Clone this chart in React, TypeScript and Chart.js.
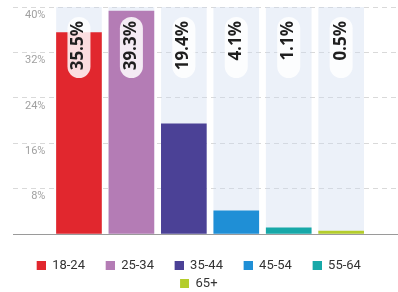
import { useEffect, useRef } from 'react';
import { Chart, registerables } from 'chart.js';

Chart.register(...registerables);

const ageGroups = ['18-24', '25-34', '35-44', '45-54', '55-64', '65+'];
const shares = [35.5, 39.3, 19.4, 4.1, 1.1, 0.5];
const barColors = ['#e1272e', '#b47cb5', '#4b4196', '#1f8fd6', '#17a8a8', '#b4cd2b'];
const yMin = 0;
const yMax = 40;
const yStep = 8;
const trackColor = 'rgba(205,219,240,0.38)';
const TRACK_LABEL = '__track';

const SWATCH = 9;
const SWATCH_PAD = 6;

function makeSwatch(color: string) {
  const c = document.createElement('canvas');
  c.width = SWATCH_PAD + SWATCH;
  c.height = SWATCH;
  const g = c.getContext('2d');
  if (g) {
    g.fillStyle = color;
    g.fillRect(SWATCH_PAD, 0, SWATCH, SWATCH);
  }
  return c;
}

const pillPlugin = {
  id: 'pills',
  afterDatasetsDraw(chart: any) {
    const { ctx, chartArea } = chart;
    ageGroups.forEach((_g, i) => {
      const meta = chart.getDatasetMeta(i);
      const bar = meta.data[0];
      if (!bar) return;
      const cx = bar.x;
      const w = 23;
      const h = 61;
      const top = chartArea.top + 10;
      ctx.save();
      ctx.fillStyle = 'rgba(255,255,255,0.85)';
      ctx.beginPath();
      ctx.roundRect(cx - w / 2, top, w, h, w / 2);
      ctx.fill();
      ctx.translate(cx - 0.5, top + 4);
      ctx.rotate(-Math.PI / 2);
      ctx.font = 'bold 17px "Open Sans"';
      ctx.fillStyle = '#1f1f1f';
      ctx.textAlign = 'right';
      ctx.textBaseline = 'middle';
      ctx.fillText(shares[i].toFixed(1) + '%', 0, 0);
      ctx.restore();
    });
  },
};

export default function App() {
  const ref = useRef<HTMLCanvasElement | null>(null);

  useEffect(() => {
    document.body.style.overflow = 'hidden';
    document.documentElement.style.overflow = 'hidden';
    if (!ref.current) return;
    Chart.defaults.font.family = 'Roboto';

    const colored = ageGroups.map((g, i) => ({
      label: g,
      data: [{ x: i, y: shares[i] }],
      backgroundColor: barColors[i],
      borderWidth: 0,
      order: 1,
    }));
    const track = {
      label: TRACK_LABEL,
      data: ageGroups.map((_g, i) => ({ x: i, y: yMax })),
      backgroundColor: trackColor,
      borderWidth: 0,
      order: 2,
    };
    const swatches = barColors.map(makeSwatch);

    const chart = new Chart(ref.current, {
      type: 'bar',
      data: { datasets: [...colored, track] as any },
      options: {
        animation: false,
        responsive: true,
        maintainAspectRatio: false,
        layout: { padding: { top: 7, left: 0, right: 0, bottom: 0 } },
        datasets: {
          bar: {
            grouped: false,
            barPercentage: 1,
            categoryPercentage: 1,
            maxBarThickness: 45,
          },
        } as any,
        scales: {
          x: {
            type: 'linear',
            min: -1.258,
            max: 6.084,
            offset: false,
            bounds: 'data',
            ticks: { display: false },
            grid: { display: false },
            border: { display: true, color: '#9a9a9a', width: 1 },
            afterBuildTicks: (scale: any) => {
              scale.ticks = ageGroups.map((_g, i) => ({ value: i }));
            },
            afterFit: (scale: any) => {
              scale.height = 20;
              scale.paddingLeft = 0;
              scale.paddingRight = 0;
            },
          },
          y: {
            min: yMin,
            max: yMax,
            ticks: {
              stepSize: yStep,
              mirror: true,
              crossAlign: 'far',
              padding: 12,
              labelOffset: 8,
              color: '#a0a0a0',
              font: { size: 11 },
              callback: (v: any) => (v === 0 ? '' : v + '%'),
            },
            grid: {
              drawTicks: false,
              color: (c: any) => (c.tick && c.tick.value === 0 ? 'rgba(0,0,0,0)' : '#d9d9d9'),
            },
            border: { display: false, dash: [5, 4] },
            afterFit: (scale: any) => {
              scale.width = 13;
              scale.paddingTop = 0;
              scale.paddingBottom = 0;
            },
          },
        },
        plugins: {
          tooltip: { enabled: false },
          legend: {
            position: 'bottom',
            labels: {
              usePointStyle: true,
              pointStyleWidth: SWATCH_PAD + SWATCH,
              boxWidth: SWATCH,
              boxHeight: SWATCH,
              padding: 5,
              color: '#333333',
              font: { size: 13 },
              generateLabels: (ch: any) => {
                const items = Chart.defaults.plugins.legend.labels
                  .generateLabels(ch)
                  .filter((it: any) => it.text !== TRACK_LABEL);
                return items.map((it: any, idx: number) => ({
                  ...it,
                  pointStyle: swatches[idx],
                  text: idx < 4 ? it.text + '   ' : it.text + '  ',
                }));
              },
            },
          },
        },
      },
      plugins: [pillPlugin],
    });
    return () => chart.destroy();
  }, []);

  return (
    <div style={{ position: 'absolute', left: 0, top: 0, width: 398, height: 300 }}>
      <canvas ref={ref} />
    </div>
  );
}
